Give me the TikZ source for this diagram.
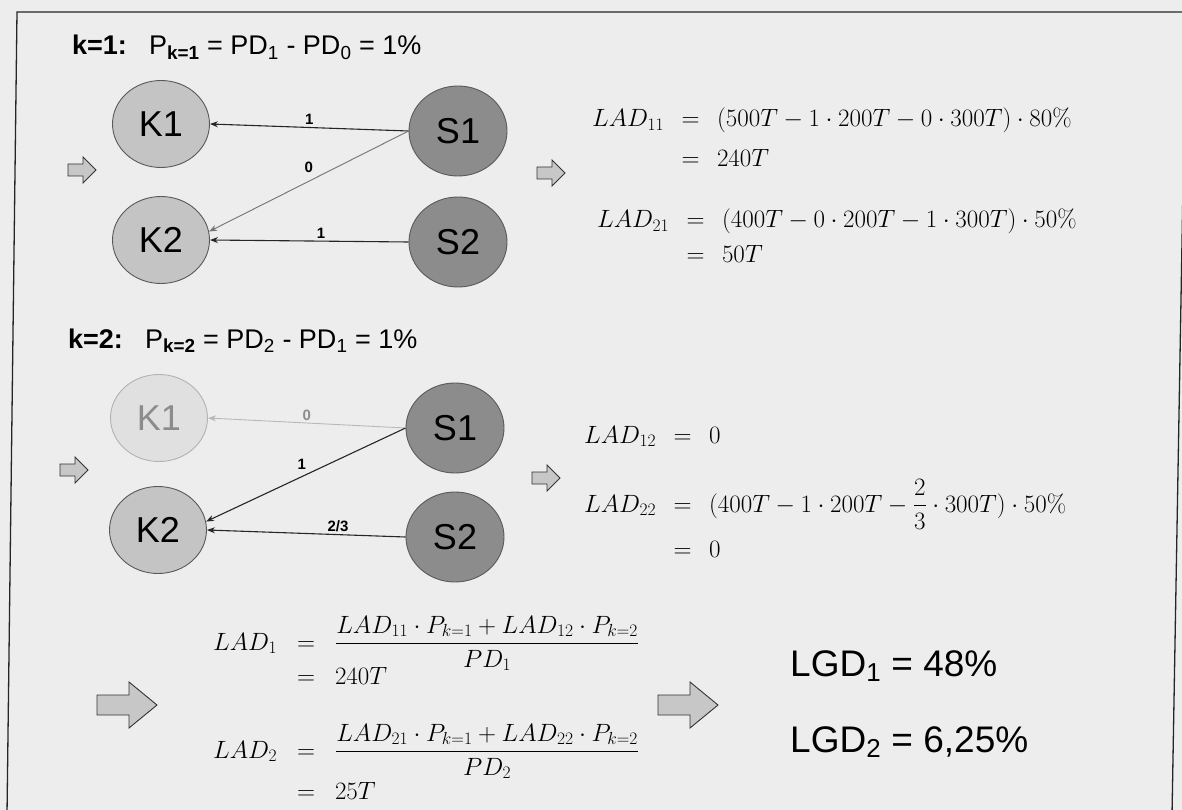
\RequirePackage{fix-cm}
\documentclass[tikz,border=0pt]{standalone}
\usepackage{amsmath}
\usepackage{fontspec}
\setsansfont{Liberation Sans}
\usetikzlibrary{arrows.meta,positioning,calc,shapes.geometric}

\tikzset{
  smallarr/.pic={\path[blockarr] (-14,-6) -- (1,-6) -- (1,-13) -- (14,0) -- (1,13) -- (1,6) -- (-14,6) -- cycle;},
  bigarr/.pic={\path[blockarr] (-30,-10) -- (2,-10) -- (2,-23) -- (30,0) -- (2,23) -- (2,10) -- (-30,10) -- cycle;}
}

\begin{document}
\begin{tikzpicture}[x=1pt,y=-1pt,>={Stealth[length=8pt,width=6pt]},
  every node/.style={font=\sffamily},
  kcirc/.style={ellipse,draw=black!65,line width=0.9pt,fill=black!23,minimum width=97pt,minimum height=87pt,inner sep=0pt,font=\fontsize{36}{36}\selectfont\sffamily},
  kfaded/.style={kcirc,draw=black!30,fill=black!12,text=black!45},
  scirc/.style={kcirc,fill=black!45,minimum width=98pt,minimum height=90pt},
  link/.style={->,line width=1.1pt,draw=black!85},
  linklight/.style={->,line width=0.9pt,draw=black!55},
  linkfaded/.style={->,line width=0.9pt,draw=black!28},
  wt/.style={font=\fontsize{15}{15}\selectfont\sffamily\bfseries,inner sep=2pt},
  headline/.style={anchor=base west,inner sep=0pt,font=\fontsize{27}{27}\selectfont\sffamily},
  eqn/.style={anchor=base west,inner sep=0pt,font=\fontsize{25}{30}\selectfont},
  lgd/.style={anchor=base west,inner sep=0pt,font=\fontsize{37}{37}\selectfont\sffamily},
  blockarr/.style={draw=black!80,line width=0.9pt,fill=black!22,line join=miter}]

  \useasboundingbox (0,0) rectangle (1182,810);
  \fill[black!7] (0,0) rectangle (1182,810);
  % frame of the scanned figure
  \draw[line width=1.3pt,black!85] (7,815) -- (17,12) -- (1186,12) -- (1172,815);

  % k = 1
  \node[headline] (head1) at (72,55) {\textbf{k=1:}\hspace{0.45em} P$_{\text{\bfseries k=1}}$ = PD$_{\text{1}}$ - PD$_{\text{0}}$ = 1\%};
  \node[kcirc] (K1a) at (161,124) {K1};
  \node[kcirc] (K2a) at (161,240) {K2};
  \node[scirc] (S1a) at (458,131) {S1};
  \node[scirc] (S2a) at (458,242) {S2};
  \draw[link] (S1a.west) -- node[wt,above] (w11) {1} (K1a.east);
  \draw[linklight] (S1a.west) -- node[wt,above=6pt] (w12) {0} (K2a.10);
  \draw[link] (S2a.west) -- node[wt,above,pos=0.44] (w21) {1} (K2a.east);
  \pic at (82,170) {smallarr};
  \pic at (551,173) {smallarr};

  \node[eqn] (eq11) at (592,127) {$\begin{array}[t]{@{}r@{\hspace{0.7em}=\hspace{0.7em}}l@{}}
    LAD_{11} & (500T-1\cdot 200T-0\cdot 300T)\cdot 80\% \\[10pt]
             & 240T \end{array}$};
  \node[eqn] (eq21) at (597,228) {$\begin{array}[t]{@{}r@{\hspace{0.7em}=\hspace{0.7em}}l@{}}
    LAD_{21} & (400T-0\cdot 200T-1\cdot 300T)\cdot 50\% \\[5pt]
             & 50T \end{array}$};

  % k = 2
  \node[headline] (head2) at (68,348) {\textbf{k=2:}\hspace{0.45em} P$_{\text{\bfseries k=2}}$ = PD$_{\text{2}}$ - PD$_{\text{1}}$ = 1\%};
  \node[kfaded] (K1b) at (159,418) {K1};
  \node[kcirc] (K2b) at (158,530) {K2};
  \node[scirc] (S1b) at (455,428) {S1};
  \node[scirc] (S2b) at (455,537) {S2};
  \draw[linkfaded] (S1b.west) -- node[wt,above,text=black!45] (v11) {0} (K1b.east);
  \draw[link] (S1b.west) -- node[wt,above=5pt,pos=0.52] (v12) {1} (K2b.10);
  \draw[link] (S2b.west) -- node[wt,above,pos=0.34] (v22) {2/3} (K2b.east);
  \pic at (74,470) {smallarr};
  \pic at (546,478) {smallarr};

  \node[eqn] (eq12) at (584,443) {$\begin{array}[t]{@{}r@{\hspace{0.7em}=\hspace{0.7em}}l@{}}
    LAD_{12} & 0 \end{array}$};
  \node[eqn] (eq22) at (584,512) {$\begin{array}[t]{@{}r@{\hspace{0.7em}=\hspace{0.7em}}l@{}}
    LAD_{22} & (400T-1\cdot 200T-\dfrac{2}{3}\cdot 300T)\cdot 50\% \\[15pt]
             & 0 \end{array}$};

  % result
  \node[eqn] (eq1) at (213,650) {$\begin{array}[t]{@{}r@{\hspace{0.8em}=\hspace{0.8em}}l@{}}
    LAD_{1} & \dfrac{LAD_{11}\cdot P_{k=1}+LAD_{12}\cdot P_{k=2}}{PD_1} \\[-7pt]
            & 240T \end{array}$};
  \node[eqn] (eq2) at (213,758) {$\begin{array}[t]{@{}r@{\hspace{0.8em}=\hspace{0.8em}}l@{}}
    LAD_{2} & \dfrac{LAD_{21}\cdot P_{k=1}+LAD_{22}\cdot P_{k=2}}{PD_2} \\[3pt]
            & 25T \end{array}$};
  \pic at (127,705) {bigarr};
  \pic at (688,705) {bigarr};
  \node[lgd] (lgd1) at (790,676) {LGD$_{\text{1}}$ = 48\%};
  \node[lgd] (lgd2) at (790,752) {LGD$_{\text{2}}$ = 6,25\%};
\end{tikzpicture}
\end{document}
